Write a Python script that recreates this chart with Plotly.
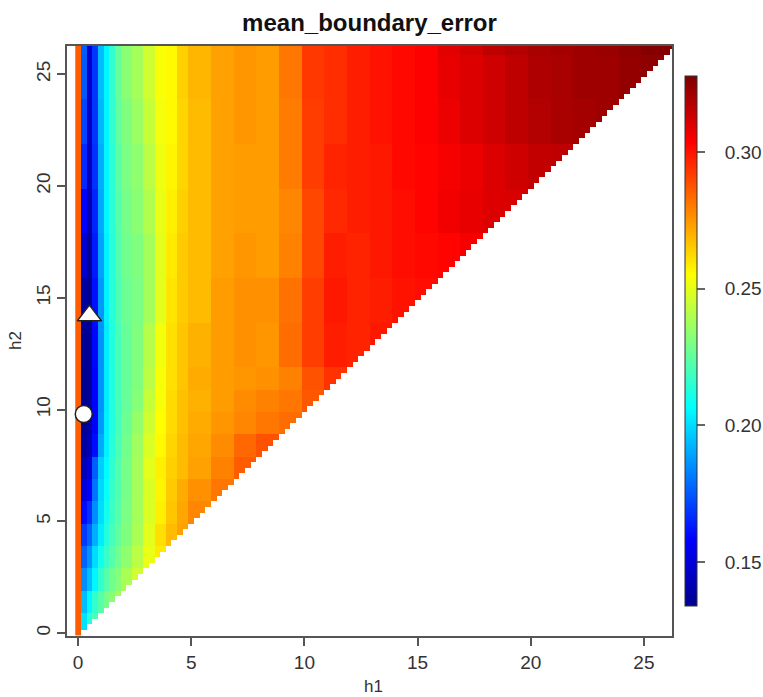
import plotly.graph_objects as go

# Grid of bandwidths (h1 on x, h2 on y)
h_values = [round(i * 0.25, 2) for i in range(106)]

# Read-off table of mean_boundary_error (in thousandths), blocks:
# columns start at col_starts (h1), rows start at row_starts (h2)
col_starts = [0, 0.25, 0.5, 0.75, 1, 1.25, 1.5, 1.75, 2, 2.5, 3, 3.5, 4, 4.5, 5,
              6, 7, 8, 9, 10, 11, 12, 13, 14, 15, 16, 17, 18, 19, 20, 21, 22, 23, 24, 25, 26]
row_starts = [0, 1, 2, 3, 4, 5, 6, 7, 8, 9, 10, 11, 12, 14, 16, 18, 20, 22, 24, 26]

err_table = [
    [286, 201, 214, 221],
    [286, 194, 205, 216, 223, 229, 233, 237],
    [286, 185, 194, 205, 216, 223, 228, 232, 239, 246],
    [286, 177, 186, 200, 210, 217, 223, 228, 234, 242, 251, 259],
    [286, 169, 177, 191, 203, 213, 220, 225, 231, 239, 250, 261, 268, 273],
    [286, 160, 167, 185, 200, 210, 218, 223, 230, 238, 248, 258, 266, 272, 278],
    [286, 150, 158, 180, 199, 208, 217, 222, 229, 238, 248, 257, 265, 271, 276, 281],
    [286, 143, 150, 176, 197, 206, 216, 222, 229, 238, 250, 258, 264, 268, 273, 279, 286],
    [286, 138, 142, 160, 190, 204, 214, 221, 228, 237, 248, 256, 263, 268, 272, 277, 284, 288],
    [286, 135, 139, 158, 187, 204, 213, 220, 227, 235, 246, 255, 262, 267, 271, 275, 278, 281, 283],
    [286, 134, 137, 158, 186, 203, 213, 220, 226, 232, 244, 254, 262, 267, 270, 274, 277, 279, 281, 287],
    [286, 134, 136, 158, 186, 203, 213, 220, 226, 231, 242, 254, 261, 266, 271, 274, 275, 276, 279, 288, 294],
    [286, 135, 135, 159, 186, 203, 213, 220, 226, 231, 241, 253, 261, 266, 270, 274, 276, 275, 283, 292, 298, 297, 299],
    [286, 138, 134, 161, 187, 204, 214, 221, 227, 230, 238, 250, 260, 265, 268, 274, 276, 276, 282, 292, 299, 297, 298, 300, 301],
    [286, 148, 137, 163, 189, 204, 214, 222, 228, 231, 238, 250, 259, 265, 268, 273, 275, 274, 279, 290, 298, 297, 299, 301, 302, 303, 305],
    [286, 158, 141, 165, 190, 205, 215, 223, 229, 233, 240, 251, 258, 264, 268, 273, 274, 274, 278, 290, 296, 298, 299, 301, 303, 306, 308, 310, 311],
    [286, 166, 144, 167, 191, 205, 215, 224, 230, 234, 242, 252, 257, 263, 268, 273, 274, 274, 280, 292, 297, 298, 299, 302, 303, 305, 307, 310, 313, 315, 316],
    [286, 171, 146, 168, 193, 205, 216, 225, 231, 236, 244, 253, 256, 263, 268, 273, 275, 274, 280, 292, 295, 298, 300, 302, 304, 307, 310, 313, 316, 318, 320, 321, 322],
    [286, 175, 147, 168, 194, 205, 216, 226, 233, 238, 246, 254, 256, 264, 269, 273, 275, 274, 281, 293, 295, 298, 300, 302, 304, 308, 310, 313, 316, 319, 320, 322, 322, 324, 325],
    [286, 176, 147, 168, 194, 205, 216, 226, 233, 238, 246, 254, 256, 264, 269, 273, 275, 274, 281, 293, 295, 298, 300, 302, 304, 309, 312, 316, 318, 320, 321, 322, 323, 325, 327, 327],
]

# Optima markers
circle_h1, circle_h2 = [0.25], [9.8]
triangle_h1, triangle_h2 = [0.5], [14.2]

tick_vals_axis = [0, 5, 10, 15, 20, 25]
cbar_ticks = [0.15, 0.20, 0.25, 0.30]
cbar_text = ["0.15", "0.20", "0.25", "0.30"]
zmin, zmax = 0.1339, 0.3278


def band(starts, v):
    idx = 0
    for i, s in enumerate(starts):
        if s <= v + 1e-9:
            idx = i
    return idx


z = []
for h2 in h_values:
    row = []
    r = band(row_starts, h2)
    for h1 in h_values:
        if h2 + 1e-9 >= h1:
            c = band(col_starts, h1)
            vals = err_table[r]
            row.append(vals[c] / 1000.0 if c < len(vals) else None)
        else:
            row.append(None)
    z.append(row)

tim_colors = [
    [0.0, "#00008F"],
    [0.125, "#0000FF"],
    [0.375, "#00FFFF"],
    [0.625, "#FFFF00"],
    [0.875, "#FF0000"],
    [1.0, "#800000"],
]

font_fam = "Liberation Sans, Arial, Helvetica, sans-serif"
nb = "\u00a0\u00a0\u00a0"

fig = go.Figure()
fig.add_trace(go.Heatmap(
    x=h_values, y=h_values, z=z,
    colorscale=tim_colors, zmin=zmin, zmax=zmax, zsmooth=False,
    colorbar=dict(
        x=1.0215, xanchor="left", y=0.5, yanchor="middle",
        len=0.898, lenmode="fraction", thickness=12, ypad=0, xpad=0,
        outlinewidth=1, outlinecolor="#333333",
        tickvals=cbar_ticks, ticktext=[nb + t for t in cbar_text],
        ticks="outside", ticklen=8, tickcolor="#666666", tickwidth=1.5,
        tickfont=dict(size=19, color="#333333", family=font_fam),
    ),
    hoverongaps=False,
))
fig.add_trace(go.Scatter(
    x=circle_h1, y=circle_h2, mode="markers",
    marker=dict(symbol="circle", size=17, color="white",
                line=dict(color="#222222", width=1.5)),
    showlegend=False,
))
fig.add_trace(go.Scatter(
    x=triangle_h1, y=triangle_h2, mode="markers",
    marker=dict(symbol="triangle-up", size=21, color="white",
                line=dict(color="#222222", width=1.5)),
    showlegend=False,
))

axis_common = dict(
    showgrid=False, zeroline=False, automargin=False,
    showline=True, mirror=True, linecolor="#555555", linewidth=1.5,
    ticks="outside", ticklen=8, tickcolor="#555555", tickwidth=1.5,
    tickvals=tick_vals_axis,
    tickfont=dict(size=19, color="#333333", family=font_fam),
)

fig.update_layout(
    width=763, height=697,
    margin=dict(l=67, r=91, t=46, b=61, autoexpand=False),
    paper_bgcolor="white", plot_bgcolor="white",
    title=dict(text="<b>mean_boundary_error</b>", x=(369.5 / 763), xanchor="center",
               y=1 - 23 / 697, yanchor="middle",
               font=dict(size=24, color="#111111", family=font_fam)),
    xaxis=dict(range=[-0.49, 26.24], **axis_common),
    yaxis=dict(range=[-0.13, 26.26], tickangle=-90, **axis_common),
    showlegend=False,
    annotations=[
        dict(text="h1", xref="paper", yref="paper", x=(373 - 67) / 605,
             y=(636 - 686) / 590, xanchor="center", yanchor="middle",
             showarrow=False, font=dict(size=17, color="#333333", family=font_fam)),
        dict(text="h2", xref="paper", yref="paper", x=(15 - 67) / 605,
             y=(636 - 341) / 590, xanchor="center", yanchor="middle", textangle=-90,
             showarrow=False, font=dict(size=17, color="#333333", family=font_fam)),
    ],
)

fig.write_html("out.html")
